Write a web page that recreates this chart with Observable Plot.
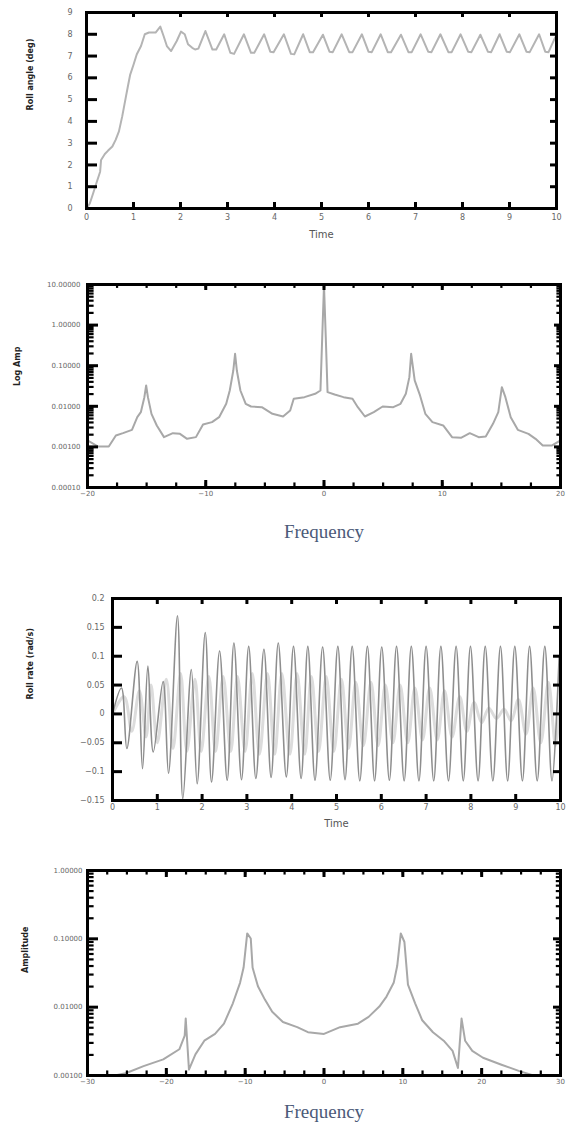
<!DOCTYPE html>
<html><head><meta charset="utf-8">
<script src="https://cdn.jsdelivr.net/npm/d3@7"></script>
<script src="https://cdn.jsdelivr.net/npm/@observablehq/plot@0.6"></script>
<style>
html,body{margin:0;padding:0;background:#fff;}
#root{position:relative;width:566px;height:1133px;overflow:hidden;background:#fff;}
.panel{position:absolute;left:0;}
</style></head><body><div id="root"></div>
<script>
// ---------- DATA ----------
// Panel 1: angle time history [time, value]
const angleSeries = [[0,0],[0.07,0.23],[0.14,0.69],[0.22,1.23],[0.29,1.69],[0.31,2.23],[0.39,2.5],[0.46,2.66],[0.55,2.85],[0.62,3.15],[0.69,3.54],[0.76,4.23],[0.84,5.15],[0.88,5.6],[0.93,6.15],[1.0,6.6],[1.07,7.08],[1.16,7.46],[1.24,8.0],[1.33,8.08],[1.47,8.08],[1.57,8.35],[1.64,7.92],[1.71,7.46],[1.80,7.23],[1.92,7.69],[2.01,8.12],[2.09,8.0],[2.16,7.54],[2.25,7.38],[2.31,7.3],[2.38,7.34],[2.53,8.15],[2.68,7.3],[2.76,7.3],[2.93,8.0],[3.06,7.15],[3.14,7.1],[3.35,8.0],[3.50,7.15],[3.57,7.15],[3.78,8.0],[3.91,7.2],[3.98,7.18],[4.20,8.0],[4.35,7.1],[4.42,7.08],[4.61,8.0],[4.75,7.18],[4.82,7.18],[5.03,7.98],[5.17,7.2],[5.24,7.18],[5.43,8.0],[5.59,7.18],[5.66,7.18],[5.86,8.0],[6.00,7.2],[6.07,7.18],[6.26,8.0],[6.41,7.18],[6.48,7.18],[6.69,7.98],[6.85,7.18],[6.92,7.18],[7.11,8.0],[7.27,7.2],[7.34,7.18],[7.53,8.0],[7.70,7.18],[7.77,7.18],[7.96,8.0],[8.12,7.2],[8.19,7.18],[8.38,7.98],[8.54,7.2],[8.61,7.18],[8.79,8.0],[8.94,7.2],[9.01,7.18],[9.21,8.0],[9.36,7.2],[9.43,7.18],[9.63,8.0],[9.76,7.2],[9.83,7.18],[9.96,7.8],[10.0,7.95]];
const angleXTicks = [0,1,2,3,4,5,6,7,8,9,10];
const angleYTicks = [0,1,2,3,4,5,6,7,8,9];

// Panel 2: spectrum of angle [frequency, amplitude]
const angleSpectrum = [[-20,0.00144],[-19.1,0.00102],[-18.2,0.00102],[-17.6,0.00191],[-17.0,0.00218],[-16.24,0.00263],[-15.79,0.0054],[-15.49,0.00716],[-15.19,0.0168],[-15.04,0.0325],[-14.89,0.0168],[-14.59,0.00652],[-14.14,0.00337],[-13.53,0.00174],[-12.78,0.00218],[-12.18,0.0021],[-11.58,0.00158],[-10.83,0.00174],[-10.23,0.00356],[-9.47,0.00407],[-8.87,0.0054],[-8.27,0.0115],[-7.97,0.0245],[-7.67,0.0762],[-7.52,0.196],[-7.37,0.0762],[-7.07,0.0245],[-6.62,0.0115],[-6.17,0.00989],[-5.26,0.00952],[-4.36,0.00652],[-3.46,0.00561],[-2.86,0.00788],[-2.56,0.0153],[-1.65,0.0168],[-0.75,0.0203],[-0.30,0.0245],[-0.15,0.505],[0,9.4],[0.15,0.505],[0.30,0.0223],[0.9,0.0195],[1.65,0.0168],[2.41,0.0153],[2.86,0.00952],[3.46,0.00561],[4.21,0.00716],[4.96,0.00989],[5.86,0.00952],[6.47,0.0115],[6.92,0.0203],[7.22,0.0522],[7.37,0.196],[7.67,0.0433],[8.12,0.0185],[8.57,0.00652],[9.17,0.00407],[10.08,0.00337],[10.83,0.00174],[11.58,0.00167],[12.33,0.00218],[13.08,0.00174],[13.68,0.0018],[14.29,0.0037],[14.74,0.00716],[15.04,0.0296],[15.34,0.0168],[15.79,0.0054],[16.39,0.00263],[17.29,0.0021],[17.89,0.00158],[18.5,0.00108],[19.25,0.00108],[20,0.00144]];
const spec1XTicks = [-20,-10,0,10,20];
const spec1YTicks = [0.0001,0.001,0.01,0.1,1,10];

// Panel 3: rate time history [time, value] and lighter companion trace
const rateSeries = [[0,0],[0.2,0.045],[0.32,-0.06],[0.55,0.091],[0.67,-0.095],[0.79,0.083],[0.91,-0.066],[1.13,0.056],[1.25,-0.103],[1.45,0.17],[1.57,-0.147],[1.76,0.077],[1.89,-0.121],[2.07,0.141],[2.21,-0.118],[2.39,0.109],[2.56,-0.115],[2.71,0.123],[2.88,-0.114],[3.04,0.117],[3.2,-0.112],[3.38,0.112],[3.54,-0.11],[3.70,0.123],[3.88,-0.109],[4.04,0.117],[4.21,-0.112],[4.36,0.117],[4.52,-0.115],[4.69,0.116],[4.86,-0.115],[5.03,0.117],[5.19,-0.114],[5.35,0.117],[5.52,-0.116],[5.69,0.117],[5.85,-0.116],[6.01,0.116],[6.18,-0.115],[6.34,0.117],[6.51,-0.116],[6.67,0.117],[6.84,-0.116],[7.0,0.117],[7.17,-0.116],[7.33,0.117],[7.5,-0.116],[7.67,0.117],[7.83,-0.116],[7.99,0.117],[8.16,-0.116],[8.32,0.117],[8.49,-0.116],[8.66,0.117],[8.82,-0.116],[8.98,0.117],[9.15,-0.116],[9.31,0.117],[9.48,-0.116],[9.65,0.117],[9.81,-0.116],[9.97,0.1]];
const rateCompanion = [[0,0],[0.26,0.03],[0.43,-0.03],[0.6,0.04],[0.75,-0.04],[0.86,0.05],[1.0,-0.05],[1.2,0.06],[1.35,-0.06],[1.52,0.07],[1.66,-0.065],[1.84,0.06],[1.98,-0.065],[2.15,0.065],[2.3,-0.065],[2.47,0.065],[2.64,-0.065],[2.79,0.065],[2.96,-0.065],[3.12,0.07],[3.28,-0.07],[3.46,0.07],[3.62,-0.07],[3.78,0.07],[3.96,-0.07],[4.12,0.07],[4.29,-0.07],[4.44,0.065],[4.6,-0.065],[4.77,0.065],[4.94,-0.065],[5.11,0.06],[5.27,-0.06],[5.43,0.055],[5.6,-0.055],[5.77,0.055],[5.93,-0.055],[6.09,0.05],[6.26,-0.05],[6.42,0.05],[6.59,-0.05],[6.75,0.045],[6.92,-0.045],[7.08,0.045],[7.25,-0.045],[7.41,0.04],[7.58,-0.04],[7.75,0.03],[7.91,-0.03],[8.07,0.02],[8.24,-0.015],[8.4,0.01],[8.57,-0.008],[8.74,0.008],[8.9,-0.012],[9.06,0.025],[9.23,-0.035],[9.39,0.045],[9.56,-0.05],[9.73,0.055],[9.89,-0.055],[10,0.03]];
const rateXTicks = [0,1,2,3,4,5,6,7,8,9,10];
const rateYTicks = [-0.15,-0.1,-0.05,0,0.05,0.1,0.15,0.2];

// Panel 4: spectrum of rate [frequency, amplitude]
const rateSpectrum = [[-30,0.00077],[-27.9,0.00093],[-25.15,0.00108],[-22.89,0.00137],[-20.39,0.00172],[-18.35,0.00242],[-17.67,0.00383],[-17.54,0.00681],[-17.36,0.00323],[-17.13,0.00122],[-16.31,0.00204],[-15.18,0.00323],[-13.82,0.00406],[-12.69,0.00573],[-11.56,0.0114],[-10.65,0.0227],[-10.2,0.038],[-9.74,0.12],[-9.29,0.101],[-9.06,0.038],[-8.38,0.0202],[-7.48,0.0128],[-6.57,0.00855],[-5.21,0.00607],[-3.40,0.0051],[-2.04,0.0043],[0,0.00406],[2.04,0.0051],[4.31,0.00573],[5.66,0.00721],[7.02,0.0102],[7.93,0.0143],[8.84,0.0227],[9.29,0.0403],[9.74,0.12],[10.2,0.0899],[10.65,0.0214],[11.56,0.0114],[12.46,0.00643],[13.82,0.0043],[15.18,0.00323],[16.31,0.00229],[16.99,0.00129],[17.45,0.00681],[17.9,0.00323],[18.81,0.00229],[20.17,0.00182],[22.43,0.00145],[24.7,0.00117],[26.96,0.00097],[28.3,0.00093],[30,0.00081]];
const spec2XTicks = [-30,-20,-10,0,10,20,30];
const spec2YTicks = [0.001,0.01,0.1,1];

const labels = {
  p1y: "Roll angle (deg)", p2y: "Log Amp", p3y: "Roll rate (rad/s)", p4y: "Amplitude",
  time: "Time", freq: "Frequency"
};

// ---------- HELPERS ----------
const root = document.getElementById("root");
const FONT = "DejaVu Sans";
function logMinor(majors) {
  const out = [];
  for (let i = 0; i < majors.length - 1; i++) for (let k = 2; k <= 9; k++) out.push(majors[i] * k);
  return out;
}
function linMinor(lo, hi, step) { return d3.range(lo, hi + 1e-9, step); }

// Inward frame ticks as rules whose far end is expressed in data units.
function borderTicks(xMaj, xMin, yMaj, yMin, s, cfg) {
  const [x0, x1] = cfg.xd, [y0, y1] = cfg.yd;
  const xAt = px => x0 + (x1 - x0) * px / cfg.W;
  const xFromRight = px => x1 - (x1 - x0) * px / cfg.W;
  const yAt = px => cfg.ylog ? y0 * Math.pow(y1 / y0, px / cfg.H) : y0 + (y1 - y0) * px / cfg.H;
  const yFromTop = px => cfg.ylog ? y1 / Math.pow(y1 / y0, px / cfg.H) : y1 - (y1 - y0) * px / cfg.H;
  const m = [];
  const addX = (ticks, f, w) => {
    m.push(Plot.ruleX(ticks, {x: d => d, y1: y0, y2: yAt(s.b * f), stroke: "#000", strokeWidth: w}));
    m.push(Plot.ruleX(ticks, {x: d => d, y1: y1, y2: yFromTop(s.t * f), stroke: "#000", strokeWidth: w}));
  };
  const addY = (ticks, f, w) => {
    m.push(Plot.ruleY(ticks, {y: d => d, x1: x0, x2: xAt(s.l * f), stroke: "#000", strokeWidth: w}));
    m.push(Plot.ruleY(ticks, {y: d => d, x1: x1, x2: xFromRight(s.r * f), stroke: "#000", strokeWidth: w}));
  };
  addX(xMaj, 1, 3); addY(yMaj, 1, 3);
  if (xMin) addX(xMin, 0.65, 2.2);
  if (yMin) addY(yMin, 0.6, 2.2);
  return m;
}
function place(svg, top) {
  const d = document.createElement("div");
  d.className = "panel"; d.style.top = top + "px";
  d.appendChild(svg); root.appendChild(d);
}
const toXY = a => a.map(([x, y]) => ({x, y}));

// ---------- PANEL 1 ----------
place(Plot.plot({
  width: 566, height: 250,
  marginLeft: 86, marginRight: 10, marginTop: 12, marginBottom: 42,
  style: {fontFamily: FONT, fontSize: "8px", background: "white"},
  x: {domain: [0, 10]}, y: {domain: [0, 9]},
  marks: [
    Plot.line(toXY(angleSeries), {x: "x", y: "y", stroke: "#b4b4b4", strokeWidth: 2}),
    ...borderTicks(angleXTicks, null, angleYTicks, null, {b: 6, t: 5, l: 11, r: 6},
      {xd: [0, 10], yd: [0, 9], W: 470, H: 196}),
    Plot.frame({stroke: "black", strokeWidth: 3}),
    Plot.axisX({ticks: angleXTicks, tickSize: 0, tickPadding: 6, label: null, color: "#666"}),
    Plot.axisY({ticks: angleYTicks, tickSize: 0, tickPadding: 14, label: null, color: "#666"}),
    Plot.text([labels.time], {frameAnchor: "bottom", dy: 29, fontSize: 10, fill: "#555"}),
    Plot.text([labels.p1y], {frameAnchor: "left", dx: -56, rotate: -90, fontSize: 8, fontWeight: "bold", fill: "#222"})
  ]
}), 0);

// ---------- PANEL 2 ----------
place(Plot.plot({
  width: 566, height: 280,
  marginLeft: 87, marginRight: 6, marginTop: 14, marginBottom: 63,
  style: {fontFamily: FONT, fontSize: "7px", background: "white"},
  x: {domain: [-20, 20]}, y: {type: "log", domain: [0.0001, 10]},
  marks: [
    Plot.line(toXY(angleSpectrum), {x: "x", y: "y", stroke: "#a8a8a8", strokeWidth: 2, clip: true}),
    ...borderTicks(spec1XTicks, linMinor(-20, 20, 2.5), spec1YTicks, logMinor(spec1YTicks), {b: 7, t: 6, l: 11, r: 6},
      {xd: [-20, 20], yd: [0.0001, 10], ylog: true, W: 473, H: 203}),
    Plot.frame({stroke: "black", strokeWidth: 3}),
    Plot.axisX({ticks: spec1XTicks, tickSize: 0, tickPadding: 4, label: null, color: "#666"}),
    Plot.axisY({ticks: spec1YTicks, tickSize: 0, tickPadding: 7, label: null, color: "#666", tickFormat: d3.format(".5f")}),
    Plot.text([labels.freq], {frameAnchor: "bottom", dy: 50, fontSize: 19, fontFamily: "Liberation Serif", fill: "#4c5a78"}),
    Plot.text([labels.p2y], {frameAnchor: "left", dx: -70, rotate: -90, fontSize: 8, fontWeight: "bold", fill: "#222"})
  ]
}), 270);

// ---------- PANEL 3 ----------
place(Plot.plot({
  width: 566, height: 270,
  marginLeft: 112, marginRight: 6, marginTop: 18, marginBottom: 50,
  style: {fontFamily: FONT, fontSize: "8px", background: "white"},
  x: {domain: [0, 10]}, y: {domain: [-0.15, 0.2]},
  marks: [
    Plot.line(toXY(rateCompanion), {x: "x", y: "y", stroke: "#dcdcdc", strokeWidth: 3, curve: "catmull-rom", clip: true}),
    Plot.line(toXY(rateSeries), {x: "x", y: "y", stroke: "#8e8e8e", strokeWidth: 1.6, curve: "catmull-rom", clip: true}),
    ...borderTicks(rateXTicks, null, rateYTicks, null, {b: 6, t: 6, l: 10, r: 7},
      {xd: [0, 10], yd: [-0.15, 0.2], W: 448, H: 202}),
    Plot.frame({stroke: "black", strokeWidth: 3}),
    Plot.axisX({ticks: rateXTicks, tickSize: 0, tickPadding: 4, label: null, color: "#666"}),
    Plot.axisY({ticks: rateYTicks, tickSize: 0, tickPadding: 8, label: null, color: "#666", tickFormat: d => d3.format("")(+d.toFixed(2))}),
    Plot.text([labels.time], {frameAnchor: "bottom", dy: 26, fontSize: 10, fill: "#555"}),
    Plot.text([labels.p3y], {frameAnchor: "left", dx: -82, rotate: -90, fontSize: 8, fontWeight: "bold", fill: "#222"})
  ]
}), 580);

// ---------- PANEL 4 ----------
place(Plot.plot({
  width: 566, height: 283,
  marginLeft: 87, marginRight: 6, marginTop: 20, marginBottom: 58,
  style: {fontFamily: FONT, fontSize: "7px", background: "white"},
  x: {domain: [-30, 30]}, y: {type: "log", domain: [0.001, 1]},
  marks: [
    Plot.line(toXY(rateSpectrum), {x: "x", y: "y", stroke: "#a8a8a8", strokeWidth: 2, clip: true}),
    ...borderTicks(spec2XTicks, linMinor(-30, 30, 2.5), spec2YTicks, logMinor(spec2YTicks), {b: 7, t: 7, l: 11, r: 7},
      {xd: [-30, 30], yd: [0.001, 1], ylog: true, W: 473, H: 205}),
    Plot.frame({stroke: "black", strokeWidth: 3}),
    Plot.axisX({ticks: spec2XTicks, tickSize: 0, tickPadding: 4, label: null, color: "#666"}),
    Plot.axisY({ticks: spec2YTicks, tickSize: 0, tickPadding: 5, label: null, color: "#666", tickFormat: d3.format(".5f")}),
    Plot.text([labels.freq], {frameAnchor: "bottom", dy: 42, fontSize: 19, fontFamily: "Liberation Serif", fill: "#4c5a78"}),
    Plot.text([labels.p4y], {frameAnchor: "left", dx: -62, rotate: -90, fontSize: 8, fontWeight: "bold", fill: "#222"})
  ]
}), 850);
</script></body></html>
